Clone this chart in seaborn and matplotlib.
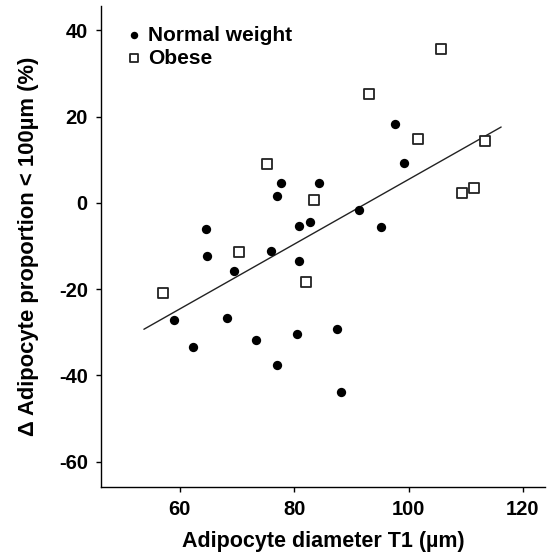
import numpy as np
import pandas as pd
import matplotlib
matplotlib.use("Agg")
import matplotlib.pyplot as plt
import seaborn as sns

# Data
normal_x = [97.6, 99.2, 77.7, 84.3, 76.9, 91.3, 80.9, 82.8, 95.1, 64.5, 64.8,
            75.9, 80.9, 69.5, 58.9, 68.2, 62.3, 73.4, 80.4, 87.4, 77.0, 88.2]
normal_y = [18.4, 9.2, 4.6, 4.6, 1.5, -1.7, -5.4, -4.4, -5.5, -6.0, -12.4,
            -11.2, -13.5, -15.9, -27.2, -26.6, -33.3, -31.9, -30.5, -29.3, -37.6, -43.9]
obese_x = [105.6, 93.0, 101.7, 113.4, 75.2, 83.5, 109.4, 111.4, 70.4, 82.1, 57.1]
obese_y = [35.7, 25.3, 14.9, 14.4, 9.1, 0.7, 2.3, 3.4, -11.3, -18.4, -20.9]
line_x = [53.7, 116.2]
line_y = [-29.3, 17.6]
groups = ["Normal weight", "Obese"]
x_ticks = [60, 80, 100, 120]
y_ticks = [-60, -40, -20, 0, 20, 40]

df = pd.DataFrame({
    "x": normal_x + obese_x,
    "y": normal_y + obese_y,
    "group": [groups[0]] * len(normal_x) + [groups[1]] * len(obese_x),
})

sns.set_theme(style="white")
plt.rcParams["font.family"] = ["Liberation Sans", "DejaVu Sans"]
plt.rcParams["axes.unicode_minus"] = False
plt.rcParams["text.color"] = "black"
plt.rcParams["axes.labelcolor"] = "black"
plt.rcParams["xtick.color"] = "black"
plt.rcParams["ytick.color"] = "black"

fig = plt.figure(figsize=(5.49, 5.56), dpi=100)
ax = fig.add_axes([0.184, 0.1247, 0.809, 0.864])

sns.lineplot(x=line_x, y=line_y, ax=ax, color="#222222", linewidth=1.0, legend=False)

sns.scatterplot(data=df[df.group == groups[0]], x="x", y="y", ax=ax,
                marker="o", color="black", edgecolor="black", s=45, linewidth=0,
                label=groups[0], zorder=3)
sns.scatterplot(data=df[df.group == groups[1]], x="x", y="y", ax=ax,
                marker="s", facecolor="white", edgecolor="#222222", s=42, linewidth=1.3,
                label=groups[1], zorder=3)

ax.set_xlim(46.2, 123.9)
ax.set_ylim(-65.8, 45.6)
ax.set_xticks(x_ticks)
ax.set_yticks(y_ticks)
ax.set_xticklabels([str(v) for v in x_ticks], fontsize=14.5, fontweight="bold", color="black")
ax.set_yticklabels([str(v) for v in y_ticks], fontsize=14.5, fontweight="bold", color="black")
ax.tick_params(axis="both", direction="out", length=3.5, width=1, color="black",
               pad=6, bottom=True, left=True)

for side in ["top", "right"]:
    ax.spines[side].set_visible(False)
for side in ["left", "bottom"]:
    ax.spines[side].set_color("black")
    ax.spines[side].set_linewidth(1.0)

ax.set_xlabel("Adipocyte diameter T1 (µm)", fontsize=15.5, fontweight="bold",
              labelpad=9, color="black")
ax.set_ylabel("Δ Adipocyte proportion < 100µm (%)", fontsize=15.8, fontweight="bold",
              labelpad=14, color="black")

leg = ax.legend(loc="upper left", bbox_to_anchor=(0.017, 0.99), frameon=False,
                handletextpad=0.2, borderaxespad=0.3, labelspacing=0.2,
                markerscale=0.8, handlelength=1.0, prop={"weight": "bold", "size": 15})
for t in leg.get_texts():
    t.set_color("black")

fig.savefig("out.png", dpi=100)
